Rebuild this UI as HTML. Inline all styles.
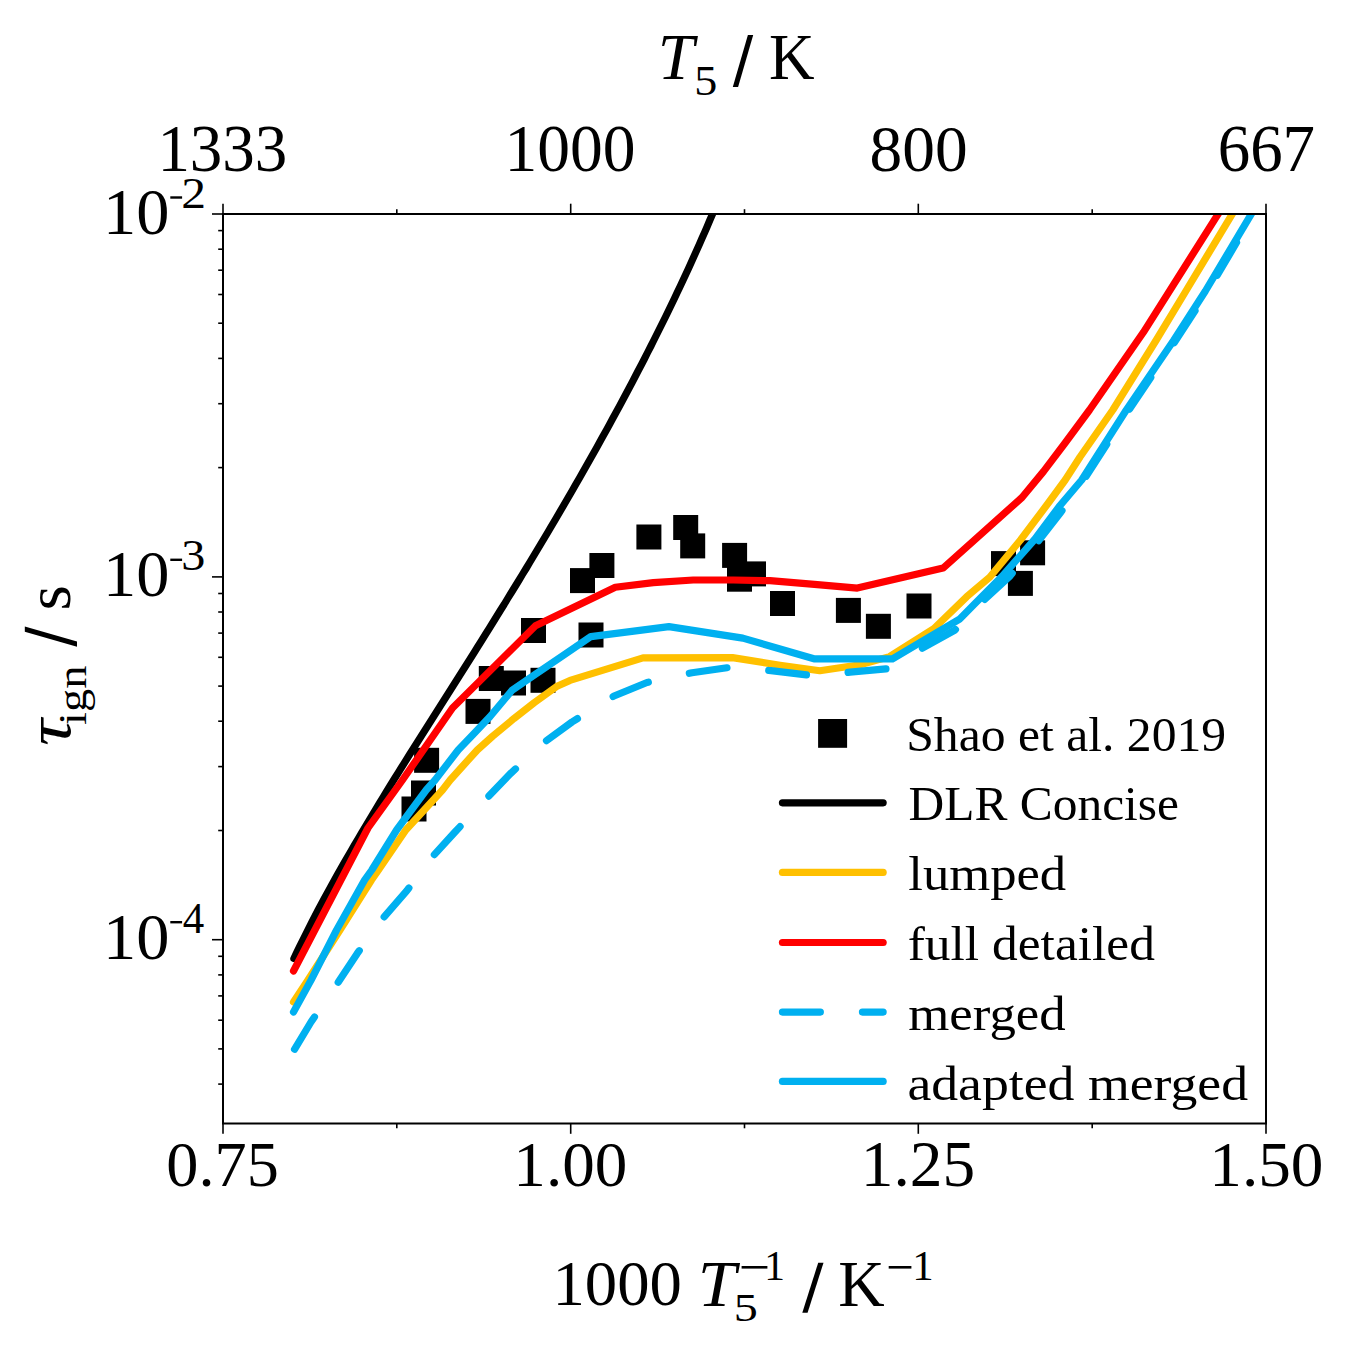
<!DOCTYPE html><html><head><meta charset="utf-8"><style>html,body{margin:0;padding:0;background:#fff;width:1352px;height:1355px;overflow:hidden}svg{display:block}text{font-family:"Liberation Serif",serif;fill:#000}</style></head><body>
<svg width="1352" height="1355" viewBox="0 0 1352 1355">
<rect width="1352" height="1355" fill="#fff"/>
<rect x="401.5" y="796.5" width="25" height="25" fill="#000"/>
<rect x="411.0" y="780.5" width="25" height="25" fill="#000"/>
<rect x="414.1" y="747.8" width="25" height="25" fill="#000"/>
<rect x="465.5" y="698.9" width="25" height="25" fill="#000"/>
<rect x="478.8" y="666.0" width="25" height="25" fill="#000"/>
<rect x="501.0" y="670.5" width="25" height="25" fill="#000"/>
<rect x="530.5" y="667.8" width="25" height="25" fill="#000"/>
<rect x="521.0" y="618.0" width="25" height="25" fill="#000"/>
<rect x="578.5" y="622.5" width="25" height="25" fill="#000"/>
<rect x="570.0" y="568.1" width="25" height="25" fill="#000"/>
<rect x="589.4" y="553.0" width="25" height="25" fill="#000"/>
<rect x="636.4" y="524.5" width="25" height="25" fill="#000"/>
<rect x="673.2" y="515.0" width="25" height="25" fill="#000"/>
<rect x="680.2" y="533.4" width="25" height="25" fill="#000"/>
<rect x="722.1" y="542.9" width="25" height="25" fill="#000"/>
<rect x="727.0" y="566.7" width="25" height="25" fill="#000"/>
<rect x="741.0" y="561.4" width="25" height="25" fill="#000"/>
<rect x="770.0" y="591.0" width="25" height="25" fill="#000"/>
<rect x="835.9" y="597.9" width="25" height="25" fill="#000"/>
<rect x="865.9" y="613.8" width="25" height="25" fill="#000"/>
<rect x="906.5" y="593.5" width="25" height="25" fill="#000"/>
<rect x="991.0" y="551.1" width="25" height="25" fill="#000"/>
<rect x="1007.9" y="570.9" width="25" height="25" fill="#000"/>
<rect x="1020.1" y="540.3" width="25" height="25" fill="#000"/>
<clipPath id="c"><rect x="0" y="214" width="1352" height="1000"/></clipPath>
<g clip-path="url(#c)" fill="none" stroke-width="7.2" stroke-linejoin="round" stroke-linecap="round">
<polyline points="293.9,958.5 296.7,952.5 299.6,946.5 302.6,940.5 305.6,934.5 308.6,928.5 311.7,922.5 314.8,916.5 317.9,910.5 321.1,904.5 324.3,898.5 327.6,892.5 330.9,886.5 334.2,880.5 337.5,874.5 340.9,868.5 344.3,862.5 347.8,856.5 351.3,850.5 354.7,844.5 358.3,838.5 361.8,832.5 365.4,826.5 369.0,820.5 372.6,814.5 376.2,808.5 379.9,802.5 383.5,796.5 387.2,790.5 390.9,784.5 394.6,778.5 398.4,772.5 402.1,766.5 405.9,760.5 409.6,754.5 413.4,748.5 417.2,742.5 421.0,736.5 424.8,730.5 428.6,724.5 432.4,718.5 436.2,712.5 440.0,706.5 443.8,700.5 447.6,694.5 451.4,688.5 455.2,682.5 459.0,676.5 462.8,670.5 466.6,664.5 470.4,658.5 474.2,652.5 477.9,646.5 481.7,640.5 485.4,634.5 489.2,628.5 492.9,622.5 496.6,616.5 500.3,610.5 504.1,604.5 507.7,598.5 511.4,592.5 515.1,586.5 518.8,580.5 522.4,574.5 526.1,568.5 529.7,562.5 533.3,556.5 536.9,550.5 540.5,544.5 544.1,538.5 547.7,532.5 551.2,526.5 554.8,520.5 558.3,514.5 561.8,508.5 565.3,502.5 568.8,496.5 572.3,490.5 575.7,484.5 579.2,478.5 582.6,472.5 586.0,466.5 589.4,460.5 592.8,454.5 596.2,448.5 599.5,442.5 602.8,436.5 606.2,430.5 609.5,424.5 612.7,418.5 616.0,412.5 619.3,406.5 622.5,400.5 625.7,394.5 628.9,388.5 632.1,382.5 635.2,376.5 638.3,370.5 641.5,364.5 644.6,358.5 647.6,352.5 650.7,346.5 653.7,340.5 656.7,334.5 659.7,328.5 662.7,322.5 665.7,316.5 668.6,310.5 671.5,304.5 674.4,298.5 677.2,292.5 680.1,286.5 682.9,280.5 685.7,274.5 688.5,268.5 691.2,262.5 693.9,256.5 696.6,250.5 699.3,244.5 701.9,238.5 704.6,232.5 707.2,226.5 709.7,220.5 712.3,214.5 716.3,205.0" stroke="#000"/>
<polyline points="293.5,1002.0 308.0,980.0 340.0,930.0 371.5,880.0 378.5,870.0 405.8,830.0 442.5,790.0 450.2,780.0 463.7,765.0 477.3,750.0 492.6,736.3 513.9,718.6 534.3,702.6 556.5,686.6 570.0,680.4 643.0,657.9 732.5,657.6 780.0,665.2 819.8,670.7 860.0,664.7 889.6,656.6 934.0,628.5 966.6,596.8 989.7,577.3 1020.5,540.0 1048.7,502.5 1065.2,480.0 1080.0,457.0 1112.8,410.0 1156.3,340.0 1184.7,293.0 1235.0,209.5" stroke="#FFC000"/>
<polyline points="293.5,971.0 368.0,828.0 402.5,780.0 452.5,708.0 535.5,625.8 615.3,587.3 653.3,582.6 693.2,580.0 733.2,580.0 770.0,580.7 814.4,584.4 857.3,588.1 943.1,568.1 1022.0,497.5 1043.6,471.4 1064.7,443.5 1089.5,410.0 1143.4,332.3 1221.0,209.5" stroke="#FF0000"/>
<polyline points="293.5,1051.0 311.0,1022.0 337.8,982.9 357.1,953.7 381.6,919.8 406.9,890.6 434.0,855.0 455.0,832.0 488.0,797.0 510.0,774.0 546.0,741.0 572.0,722.0 614.0,696.0 647.0,682.5 692.0,672.7 732.5,667.0 771.0,670.7 819.8,676.4 850.0,672.1 887.0,668.8 921.0,649.0 955.0,630.0 983.0,601.0 1010.0,576.0 1040.0,539.0 1061.0,512.0 1085.0,478.0 1129.0,410.0 1176.0,340.0 1208.0,291.0 1256.0,209.5" stroke="#00B0F0" stroke-dasharray="38 42" stroke-dashoffset="-2"/>
<polyline points="293.5,1012.0 311.1,980.0 336.6,930.0 364.6,880.0 371.8,870.0 396.6,830.0 426.2,790.0 435.1,780.0 458.2,750.0 472.6,735.0 489.9,716.8 512.1,690.2 534.3,675.1 560.9,657.0 590.9,636.6 668.9,626.6 742.8,638.1 813.9,658.8 892.5,658.8 960.0,618.8 975.5,603.0 1002.1,576.4 1035.0,539.0 1059.1,506.6 1081.7,480.0 1126.3,410.0 1173.9,340.0 1205.4,291.0 1254.0,209.5" stroke="#00B0F0"/>
</g>
<g stroke="#000" fill="none">
<rect x="223.0" y="214.0" width="1043.0" height="909.5" stroke-width="2"/>
<line x1="223.0" y1="1123.5" x2="223.0" y2="1133.8" stroke-width="1.6"/>
<line x1="223.0" y1="214.0" x2="223.0" y2="203.7" stroke-width="1.6"/>
<line x1="396.8" y1="1123.5" x2="396.8" y2="1128.3" stroke-width="1.6"/>
<line x1="396.8" y1="214.0" x2="396.8" y2="209.2" stroke-width="1.6"/>
<line x1="570.7" y1="1123.5" x2="570.7" y2="1133.8" stroke-width="1.6"/>
<line x1="570.7" y1="214.0" x2="570.7" y2="203.7" stroke-width="1.6"/>
<line x1="744.5" y1="1123.5" x2="744.5" y2="1128.3" stroke-width="1.6"/>
<line x1="744.5" y1="214.0" x2="744.5" y2="209.2" stroke-width="1.6"/>
<line x1="918.3" y1="1123.5" x2="918.3" y2="1133.8" stroke-width="1.6"/>
<line x1="918.3" y1="214.0" x2="918.3" y2="203.7" stroke-width="1.6"/>
<line x1="1092.2" y1="1123.5" x2="1092.2" y2="1128.3" stroke-width="1.6"/>
<line x1="1092.2" y1="214.0" x2="1092.2" y2="209.2" stroke-width="1.6"/>
<line x1="1266.0" y1="1123.5" x2="1266.0" y2="1133.8" stroke-width="1.6"/>
<line x1="1266.0" y1="214.0" x2="1266.0" y2="203.7" stroke-width="1.6"/>
<line x1="212.0" y1="214.0" x2="223.0" y2="214.0" stroke-width="1.6"/>
<line x1="212.0" y1="576.9" x2="223.0" y2="576.9" stroke-width="1.6"/>
<line x1="212.0" y1="939.7" x2="223.0" y2="939.7" stroke-width="1.6"/>
<line x1="218.2" y1="467.6" x2="223.0" y2="467.6" stroke-width="1.6"/>
<line x1="218.2" y1="403.7" x2="223.0" y2="403.7" stroke-width="1.6"/>
<line x1="218.2" y1="358.4" x2="223.0" y2="358.4" stroke-width="1.6"/>
<line x1="218.2" y1="323.2" x2="223.0" y2="323.2" stroke-width="1.6"/>
<line x1="218.2" y1="294.5" x2="223.0" y2="294.5" stroke-width="1.6"/>
<line x1="218.2" y1="270.2" x2="223.0" y2="270.2" stroke-width="1.6"/>
<line x1="218.2" y1="249.2" x2="223.0" y2="249.2" stroke-width="1.6"/>
<line x1="218.2" y1="230.6" x2="223.0" y2="230.6" stroke-width="1.6"/>
<line x1="218.2" y1="830.5" x2="223.0" y2="830.5" stroke-width="1.6"/>
<line x1="218.2" y1="766.6" x2="223.0" y2="766.6" stroke-width="1.6"/>
<line x1="218.2" y1="721.2" x2="223.0" y2="721.2" stroke-width="1.6"/>
<line x1="218.2" y1="686.1" x2="223.0" y2="686.1" stroke-width="1.6"/>
<line x1="218.2" y1="657.3" x2="223.0" y2="657.3" stroke-width="1.6"/>
<line x1="218.2" y1="633.1" x2="223.0" y2="633.1" stroke-width="1.6"/>
<line x1="218.2" y1="612.0" x2="223.0" y2="612.0" stroke-width="1.6"/>
<line x1="218.2" y1="593.5" x2="223.0" y2="593.5" stroke-width="1.6"/>
<line x1="218.2" y1="1084.1" x2="223.0" y2="1084.1" stroke-width="1.6"/>
<line x1="218.2" y1="1048.9" x2="223.0" y2="1048.9" stroke-width="1.6"/>
<line x1="218.2" y1="1020.2" x2="223.0" y2="1020.2" stroke-width="1.6"/>
<line x1="218.2" y1="995.9" x2="223.0" y2="995.9" stroke-width="1.6"/>
<line x1="218.2" y1="974.9" x2="223.0" y2="974.9" stroke-width="1.6"/>
<line x1="218.2" y1="956.3" x2="223.0" y2="956.3" stroke-width="1.6"/>
</g>
<text x="157.38" y="170.93" font-size="66.96" textLength="129.95" lengthAdjust="spacingAndGlyphs">1333</text>
<text x="504.43" y="171.03" font-size="66.81" textLength="131.16" lengthAdjust="spacingAndGlyphs">1000</text>
<text x="869.52" y="170.84" font-size="66.37" textLength="98.07" lengthAdjust="spacingAndGlyphs">800</text>
<text x="1217.71" y="170.93" font-size="66.67" textLength="97.37" lengthAdjust="spacingAndGlyphs">667</text>
<text x="166.36" y="1185.80" font-size="64.21" textLength="112.45" lengthAdjust="spacingAndGlyphs">0.75</text>
<text x="513.37" y="1185.80" font-size="64.36" textLength="114.01" lengthAdjust="spacingAndGlyphs">1.00</text>
<text x="860.75" y="1185.79" font-size="64.64" textLength="114.40" lengthAdjust="spacingAndGlyphs">1.25</text>
<text x="1209.26" y="1185.80" font-size="64.36" textLength="114.22" lengthAdjust="spacingAndGlyphs">1.50</text>
<text x="103.06" y="233.94" font-size="65.93" textLength="66.36" lengthAdjust="spacingAndGlyphs">10</text>
<rect x="170.3" y="196.3" width="11.8" height="2.4" fill="#000"/>
<text x="181.32" y="208.10" font-size="45.02" textLength="24.81" lengthAdjust="spacingAndGlyphs">2</text>
<text x="103.06" y="596.24" font-size="65.93" textLength="66.36" lengthAdjust="spacingAndGlyphs">10</text>
<rect x="170.3" y="558.6" width="11.8" height="2.4" fill="#000"/>
<text x="181.19" y="570.35" font-size="44.94" textLength="24.09" lengthAdjust="spacingAndGlyphs">3</text>
<text x="103.06" y="958.64" font-size="65.93" textLength="66.36" lengthAdjust="spacingAndGlyphs">10</text>
<rect x="170.3" y="921.0" width="11.8" height="2.4" fill="#000"/>
<text x="182.64" y="932.80" font-size="45.29" textLength="21.44" lengthAdjust="spacingAndGlyphs">4</text>
<text x="657.68" y="79.30" font-size="65.50" textLength="36.37" lengthAdjust="spacingAndGlyphs" font-style="italic">T</text>
<text x="694.22" y="95.17" font-size="43.16" textLength="23.08" lengthAdjust="spacingAndGlyphs">5</text>
<polygon points="747.9,35 753.2,35 738.1,86.9 732.8,86.9" fill="#000"/>
<text x="769.07" y="78.90" font-size="66.00" textLength="45.57" lengthAdjust="spacingAndGlyphs">K</text>
<text x="552.50" y="1305.47" font-size="62.96" textLength="129.46" lengthAdjust="spacingAndGlyphs">1000</text>
<text x="697.66" y="1305.50" font-size="65.50" textLength="38.29" lengthAdjust="spacingAndGlyphs" font-style="italic">T</text>
<text x="733.71" y="1320.90" font-size="40.15" textLength="24.07" lengthAdjust="spacingAndGlyphs">5</text>
<rect x="741.6" y="1266" width="25.8" height="2.6" fill="#000"/>
<text x="764.35" y="1280.00" font-size="43.18" textLength="20.74" lengthAdjust="spacingAndGlyphs">1</text>
<polygon points="818.2,1262.7 823.5,1262.7 807.6,1312.8 802.3,1312.8" fill="#000"/>
<text x="838.34" y="1305.50" font-size="66.00" textLength="46.42" lengthAdjust="spacingAndGlyphs">K</text>
<rect x="888.7" y="1266" width="22.7" height="2.6" fill="#000"/>
<text x="912.23" y="1280.00" font-size="43.18" textLength="21.45" lengthAdjust="spacingAndGlyphs">1</text>
<g transform="translate(70,750) rotate(-90)">
<text x="4.05" y="0.00" font-size="63.00" textLength="26.89" lengthAdjust="spacingAndGlyphs" font-style="italic">τ</text>
<text x="25.02" y="16.30" font-size="41.00" textLength="59.36" lengthAdjust="spacingAndGlyphs">ign</text>
<text x="139.53" y="0.00" font-size="63.00" textLength="25.32" lengthAdjust="spacingAndGlyphs">s</text>
</g>
<polygon points="24.8,626.5 24.8,631.8 77,646.8 77,641.5" fill="#000"/>
<rect x="818.1" y="719" width="29" height="28.8" fill="#000"/>
<g fill="none" stroke-width="7.1" stroke-linecap="round">
<line x1="782.4" y1="802.85" x2="883.2" y2="802.85" stroke="#000"/>
<line x1="782.4" y1="872.4" x2="883.2" y2="872.4" stroke="#FFC000"/>
<line x1="782.4" y1="942.5" x2="883.2" y2="942.5" stroke="#FF0000"/>
<line x1="782.4" y1="1012.1" x2="883.2" y2="1012.1" stroke="#00B0F0" stroke-dasharray="38 42"/>
<line x1="782.4" y1="1081.4" x2="883.2" y2="1081.4" stroke="#00B0F0"/>
</g>
<text x="906.27" y="750.70" font-size="47.70" textLength="319.88" lengthAdjust="spacingAndGlyphs">Shao et al. 2019</text>
<text x="908.57" y="820.48" font-size="47.70" textLength="270.45" lengthAdjust="spacingAndGlyphs">DLR Concise</text>
<text x="908.25" y="890.26" font-size="47.70" textLength="157.96" lengthAdjust="spacingAndGlyphs">lumped</text>
<text x="907.70" y="960.04" font-size="47.70" textLength="247.20" lengthAdjust="spacingAndGlyphs">full detailed</text>
<text x="908.19" y="1029.82" font-size="47.70" textLength="157.57" lengthAdjust="spacingAndGlyphs">merged</text>
<text x="907.42" y="1099.60" font-size="47.70" textLength="340.62" lengthAdjust="spacingAndGlyphs">adapted merged</text>
</svg></body></html>
